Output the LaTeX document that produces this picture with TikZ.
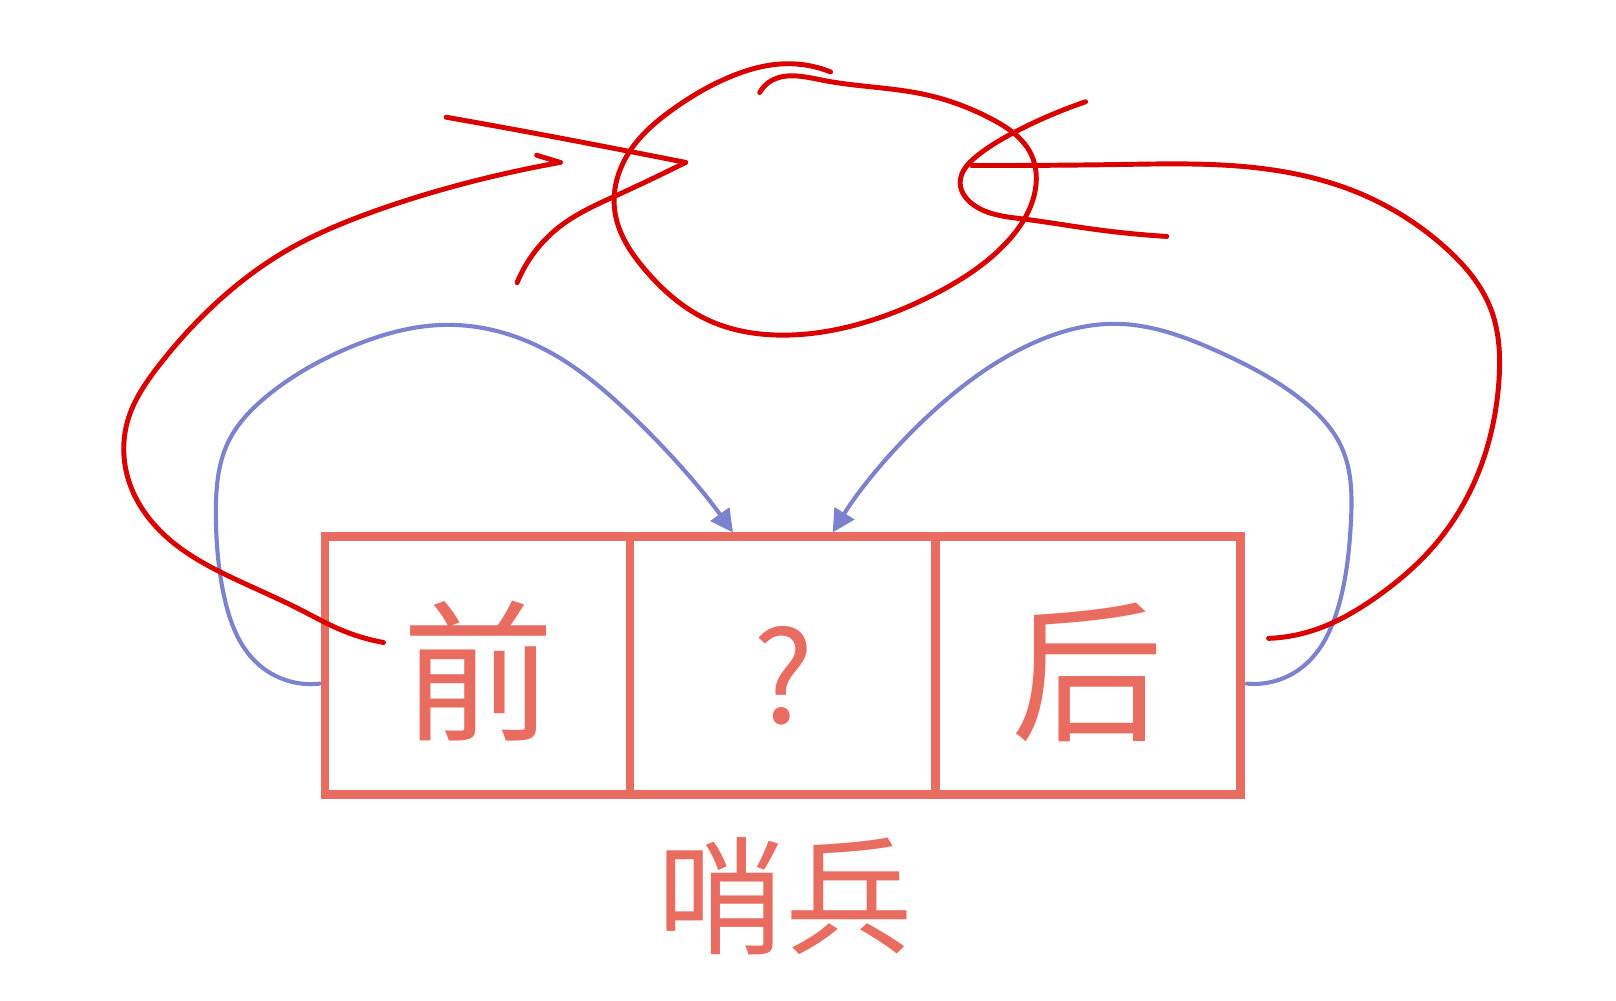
\documentclass[tikz,border=0pt]{standalone}
\usepackage{fontspec}
\newfontfamily\cjk{Noto Sans CJK SC}
\usetikzlibrary{arrows.meta,hobby}
\definecolor{boxred}{RGB}{233,108,96}
\definecolor{inkred}{RGB}{218,0,0}
\definecolor{inkblue}{RGB}{124,130,205}
\begin{document}
\begin{tikzpicture}[x=0.5pt,y=-0.5pt,
  cell/.style={draw=boxred, line width=4.2pt, minimum width=148.5pt, minimum height=125.5pt, inner sep=0pt, outer sep=0pt},
  celltext/.style={text=boxred, font=\cjk\fontsize{74pt}{80pt}\selectfont, inner sep=0pt},
  qtext/.style={text=boxred, font=\cjk\fontsize{62pt}{68pt}\selectfont, inner sep=0pt},
  captext/.style={text=boxred, font=\cjk\fontsize{62pt}{68pt}\selectfont, inner sep=0pt},
  pen/.style={draw=inkred, line width=2.4pt, line cap=round, line join=round, use Hobby shortcut},
  link/.style={draw=inkblue, line width=2pt, line cap=round, use Hobby shortcut, -{Triangle[length=11pt,width=11pt]}},
]
\useasboundingbox (0,0) rectangle (1572,973);

% the three cells
\node[cell] (cellA) at (464.5,647.5) {};
\node[cell] (cellB) at (761.5,647.5) {};
\node[cell] (cellC) at (1058.5,647.5) {};
\node[celltext] (tA) at (466,653) {前};
\node[qtext] (tB) at (762,657) {?};
\node[celltext] (tC) at (1058,654) {后};
\node[captext] (cap) at (764,872) {哨兵};

% blue connectors
\coordinate (blueAstart) at (311,665);
\coordinate (blueAend) at (713,518);
\coordinate (blueCstart) at (1213,665);
\coordinate (blueCend) at (810,518);
\draw[link] (blueAstart) .. (250,645) .. (218,580) .. (210,500) .. (222,430) .. (260,385) .. (340,338) .. (435,316) .. (530,340) .. (610,400) .. (blueAend);
\draw[link] (blueCstart) .. (1268,648) .. (1302,590) .. (1314,510) .. (1305,435) .. (1265,388) .. (1185,342) .. (1085,315) .. (1000,336) .. (910,398) .. (blueCend);

% red hand-drawn strokes
\coordinate (redAstart) at (373,625);
\coordinate (redAtip) at (545,158);
\draw[pen] (redAstart) .. (330,612) .. (292,593) .. (230,564) .. (165,525) .. (126,470) .. (124,410) .. (155,355) .. (210,295) .. (280,243) .. (360,207) .. (450,179) .. (redAtip);
\draw[draw=inkred, line width=2.4pt, line cap=round] (522,151) -- (redAtip);

% left crossing stroke (">" shape)
\coordinate (gtTip) at (667,158);
\draw[pen] (434,114) .. (538,133) .. (616,148) .. (gtTip);
\draw[pen] (gtTip) .. (600,190) .. (545,220) .. (503,275);

% circle (the node being inserted)
\draw[pen] (739,90) .. (748,80) .. (800,78) .. (900,92) .. (965,116) .. (1003,150) .. (1006,190) .. (980,235) .. (915,283) .. (840,314) .. (760,326) .. (688,311) .. (628,263) .. (598,205) .. (612,148) .. (655,106) .. (712,74) .. (765,62) .. (808,70);

% right crossing stroke
\draw[pen] (1056,99) .. (990,127) .. (950,152) .. (934,178) .. (948,200) .. (995,213) .. (1064,223) .. (1135,230);

% right big curve
\coordinate (redCstart) at (945,161);
\coordinate (redCend) at (1234,621);
\draw[pen] (redCstart) .. (1090,160) .. (1220,163) .. (1320,187) .. (1405,240) .. (1450,300) .. (1458,372) .. (1440,455) .. (1400,525) .. (1340,580) .. (1275,614) .. (redCend);
\end{tikzpicture}
\end{document}
